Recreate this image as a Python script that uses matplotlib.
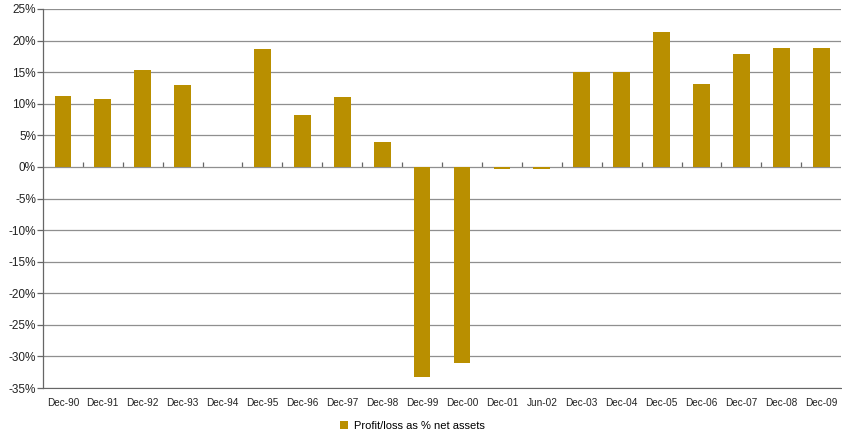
import numpy as np
import matplotlib
matplotlib.use("Agg")
import matplotlib.pyplot as plt
from matplotlib.ticker import FixedLocator, PercentFormatter

periods = ["Dec-90", "Dec-91", "Dec-92", "Dec-93", "Dec-94", "Dec-95", "Dec-96",
           "Dec-97", "Dec-98", "Dec-99", "Dec-00", "Dec-01", "Jun-02", "Dec-03",
           "Dec-04", "Dec-05", "Dec-06", "Dec-07", "Dec-08", "Dec-09"]
profit_pct = [11.3, 10.7, 15.4, 12.9, 0.0, 18.6, 8.3, 11.1, 4.0, -33.2,
              -31.0, -0.4, -0.4, 15.0, 15.0, 21.3, 13.1, 17.8, 18.8, 18.8]
y_ticks = [-35, -30, -25, -20, -15, -10, -5, 0, 5, 10, 15, 20, 25]

BAR = "#B98F00"
GRID = "#8f8f8f"
AXIS = "#666666"

plt.rcParams["font.family"] = ["Liberation Sans", "DejaVu Sans"]
plt.rcParams["axes.unicode_minus"] = False

fig = plt.figure(figsize=(8.42, 4.41), dpi=100)
ax = fig.add_axes([0.051, 0.12, 0.948, 0.8596])

x = np.arange(len(periods))
ax.bar(x, profit_pct, width=0.42, color=BAR, zorder=3,
       label="Profit/loss as % net assets")

ax.set_xlim(-0.5, len(periods) - 0.5)
ax.set_ylim(y_ticks[0], y_ticks[-1])
ax.set_yticks(y_ticks)
ax.yaxis.set_major_formatter(PercentFormatter(decimals=0))
ax.yaxis.grid(True, color=GRID, lw=0.9, zorder=0)

ax.set_xticks(x)
ax.set_xticklabels(periods)
ax.tick_params(axis="x", length=0, pad=7, labelsize=7.2, colors="#222222")
ax.tick_params(axis="y", length=4, width=0.9, color=AXIS, pad=1,
               labelsize=8.5, labelcolor="#222222")

for s in ("top", "right"):
    ax.spines[s].set_visible(False)
ax.spines["left"].set_color(AXIS)
ax.spines["bottom"].set_color(AXIS)
ax.spines["left"].set_linewidth(0.9)

# category separator ticks hanging off the zero line
zero_frac = (0 - y_ticks[0]) / (y_ticks[-1] - y_ticks[0])
zx = ax.secondary_xaxis(zero_frac)
zx.xaxis.set_major_locator(FixedLocator(np.arange(0.5, len(periods) - 1, 1.0)))
zx.tick_params(axis="x", length=3.5, width=0.9, color=AXIS, labelbottom=False,
               labeltop=False, direction="out")
zx.spines["bottom"].set_color(AXIS)
zx.spines["bottom"].set_linewidth(1.0)
zx.spines["top"].set_visible(False)

fig.legend(loc="lower center", bbox_to_anchor=(0.49, 0.0), frameon=False,
           fontsize=8, handlelength=0.7, handleheight=0.7, handletextpad=0.6)

fig.savefig("out.png", dpi=100)
